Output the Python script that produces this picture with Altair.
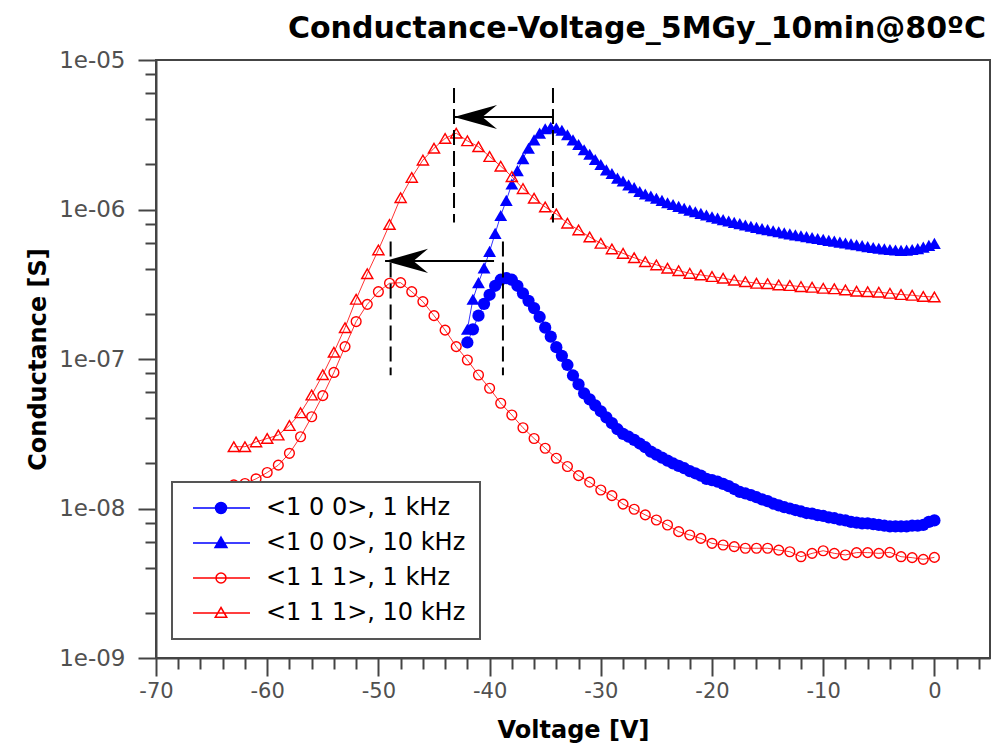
import altair as alt
import pandas as pd

# ---------------- data ----------------
series_names = ["<1 0 0>, 1 kHz", "<1 0 0>, 10 kHz", "<1 1 1>, 1 kHz", "<1 1 1>, 10 kHz"]
series_colors = ["#0000ff", "#0000ff", "#ff0000", "#ff0000"]
series_shapes = ["circle", "triangle-up", "circle", "triangle-up"]
series_filled = [True, True, False, False]
series_sizes = [150, 165, 95, 125]

v_100 = [-42.0, -41.5, -41.0, -40.5, -40.0, -39.5, -39.0, -38.5, -38.0, -37.5, -37.0, -36.5,
         -36.0, -35.5, -35.0, -34.5, -34.0, -33.5, -33.0, -32.5, -32.0, -31.5, -31.0, -30.5,
         -30.0, -29.5, -29.0, -28.5, -28.0, -27.5, -27.0, -26.5, -26.0, -25.5, -25.0, -24.5,
         -24.0, -23.5, -23.0, -22.5, -22.0, -21.5, -21.0, -20.5, -20.0, -19.5, -19.0, -18.5,
         -18.0, -17.5, -17.0, -16.5, -16.0, -15.5, -15.0, -14.5, -14.0, -13.5, -13.0, -12.5,
         -12.0, -11.5, -11.0, -10.5, -10.0, -9.5, -9.0, -8.5, -8.0, -7.5, -7.0, -6.5,
         -6.0, -5.5, -5.0, -4.5, -4.0, -3.5, -3.0, -2.5, -2.0, -1.5, -1.0, -0.5, 0.0]

g_100_1k = [1.29e-7, 1.58e-7, 1.95e-7, 2.34e-7, 2.69e-7, 3.09e-7, 3.39e-7, 3.47e-7, 3.39e-7, 3.09e-7,
            2.75e-7, 2.45e-7, 2.19e-7, 1.91e-7, 1.62e-7, 1.41e-7, 1.20e-7, 1.05e-7, 9.12e-8, 7.76e-8,
            6.76e-8, 5.89e-8, 5.37e-8, 4.90e-8, 4.47e-8, 4.07e-8, 3.72e-8, 3.39e-8, 3.16e-8, 3.02e-8,
            2.88e-8, 2.72e-8, 2.57e-8, 2.40e-8, 2.29e-8, 2.19e-8, 2.09e-8, 2.00e-8, 1.93e-8, 1.86e-8,
            1.78e-8, 1.72e-8, 1.66e-8, 1.58e-8, 1.55e-8, 1.51e-8, 1.46e-8, 1.41e-8, 1.35e-8, 1.29e-8,
            1.26e-8, 1.23e-8, 1.19e-8, 1.15e-8, 1.12e-8, 1.08e-8, 1.05e-8, 1.02e-8, 1.00e-8, 9.77e-9,
            9.55e-9, 9.33e-9, 9.23e-9, 9.02e-9, 8.91e-9, 8.71e-9, 8.61e-9, 8.41e-9, 8.32e-9, 8.13e-9,
            8.04e-9, 7.94e-9, 7.94e-9, 7.85e-9, 7.76e-9, 7.67e-9, 7.59e-9, 7.59e-9, 7.59e-9, 7.59e-9,
            7.67e-9, 7.67e-9, 7.76e-9, 8.13e-9, 8.32e-9]

g_100_10k = [1.58e-7, 2.51e-7, 3.24e-7, 4.07e-7, 5.25e-7, 6.92e-7, 9.12e-7, 1.15e-6, 1.48e-6, 1.82e-6,
             2.19e-6, 2.57e-6, 2.92e-6, 3.24e-6, 3.47e-6, 3.55e-6, 3.51e-6, 3.39e-6, 3.16e-6, 2.92e-6,
             2.72e-6, 2.51e-6, 2.34e-6, 2.16e-6, 2.00e-6, 1.84e-6, 1.74e-6, 1.62e-6, 1.55e-6, 1.46e-6,
             1.40e-6, 1.32e-6, 1.27e-6, 1.23e-6, 1.19e-6, 1.15e-6, 1.11e-6, 1.08e-6, 1.05e-6, 1.02e-6,
             9.91e-7, 9.66e-7, 9.42e-7, 9.18e-7, 8.95e-7, 8.75e-7, 8.55e-7, 8.37e-7, 8.20e-7, 8.04e-7,
             7.87e-7, 7.73e-7, 7.59e-7, 7.45e-7, 7.33e-7, 7.21e-7, 7.10e-7, 6.98e-7, 6.87e-7, 6.76e-7,
             6.67e-7, 6.58e-7, 6.49e-7, 6.40e-7, 6.31e-7, 6.22e-7, 6.14e-7, 6.05e-7, 5.97e-7, 5.89e-7,
             5.81e-7, 5.73e-7, 5.65e-7, 5.57e-7, 5.51e-7, 5.45e-7, 5.40e-7, 5.36e-7, 5.33e-7, 5.35e-7,
             5.40e-7, 5.47e-7, 5.60e-7, 5.75e-7, 5.94e-7]

v_111 = [-63, -62, -61, -60, -59, -58, -57, -56, -55, -54, -53, -52, -51, -50, -49, -48,
         -47, -46, -45, -44, -43, -42, -41, -40, -39, -38, -37, -36, -35, -34, -33, -32,
         -31, -30, -29, -28, -27, -26, -25, -24, -23, -22, -21, -20, -19, -18, -17, -16,
         -15, -14, -13, -12, -11, -10, -9, -8, -7, -6, -5, -4, -3, -2, -1, 0]

g_111_1k = [1.44e-8, 1.47e-8, 1.58e-8, 1.74e-8, 1.95e-8, 2.34e-8, 3.02e-8, 4.11e-8, 5.69e-8, 8.13e-8,
            1.21e-7, 1.78e-7, 2.32e-7, 2.82e-7, 3.21e-7, 3.24e-7, 2.82e-7, 2.42e-7, 1.95e-7, 1.56e-7,
            1.21e-7, 9.84e-8, 7.82e-8, 6.37e-8, 5.06e-8, 4.22e-8, 3.47e-8, 2.94e-8, 2.53e-8, 2.17e-8,
            1.91e-8, 1.66e-8, 1.50e-8, 1.33e-8, 1.22e-8, 1.07e-8, 9.89e-9, 9.06e-9, 8.38e-9, 7.76e-9,
            7.00e-9, 6.65e-9, 6.31e-9, 5.85e-9, 5.70e-9, 5.56e-9, 5.42e-9, 5.42e-9, 5.42e-9, 5.27e-9,
            5.14e-9, 4.76e-9, 5.01e-9, 5.22e-9, 5.01e-9, 4.89e-9, 5.07e-9, 5.07e-9, 5.01e-9, 5.09e-9,
            4.76e-9, 4.69e-9, 4.57e-9, 4.71e-9]

g_111_10k = [2.59e-8, 2.59e-8, 2.79e-8, 2.94e-8, 3.10e-8, 3.59e-8, 4.37e-8, 5.74e-8, 7.85e-8, 1.11e-7,
             1.62e-7, 2.51e-7, 3.72e-7, 5.37e-7, 7.94e-7, 1.20e-6, 1.64e-6, 2.14e-6, 2.57e-6, 2.99e-6,
             3.24e-6, 2.88e-6, 2.63e-6, 2.26e-6, 1.95e-6, 1.66e-6, 1.38e-6, 1.19e-6, 1.04e-6, 9.33e-7,
             8.10e-7, 7.30e-7, 6.55e-7, 5.94e-7, 5.45e-7, 5.09e-7, 4.76e-7, 4.48e-7, 4.26e-7, 4.05e-7,
             3.90e-7, 3.74e-7, 3.65e-7, 3.56e-7, 3.47e-7, 3.37e-7, 3.29e-7, 3.21e-7, 3.19e-7, 3.13e-7,
             3.10e-7, 3.05e-7, 3.02e-7, 2.97e-7, 2.95e-7, 2.90e-7, 2.84e-7, 2.82e-7, 2.80e-7, 2.75e-7,
             2.70e-7, 2.67e-7, 2.62e-7, 2.60e-7]

# annotation: dashed guide lines and shift arrows
vline_v = [-43.2, -34.3, -48.9, -38.8]
vline_top = [6.5e-6, 6.5e-6, 6.1e-7, 6.1e-7]
vline_bottom = [8.2e-7, 8.2e-7, 7.8e-8, 7.8e-8]
arrow_from_v = [-34.3, -39.6]
arrow_to_v = [-43.2, -49.4]
arrow_g = [4.16e-6, 4.53e-7]

# axis ticks
x_major = [-70, -60, -50, -40, -30, -20, -10, 0]
x_minor = [-68, -66, -64, -62, -58, -56, -54, -52, -48, -46, -44, -42, -38, -36, -34, -32,
           -28, -26, -24, -22, -18, -16, -14, -12, -8, -6, -4, -2, 2, 4]
y_major = [1e-9, 1e-8, 1e-7, 1e-6, 1e-5]
y_minor = [2e-9, 4e-9, 6e-9, 8e-9, 2e-8, 4e-8, 6e-8, 8e-8, 2e-7, 4e-7, 6e-7, 8e-7,
           2e-6, 4e-6, 6e-6, 8e-6]

# ---------------- build tables ----------------
series_data = [(v_100, g_100_1k), (v_100, g_100_10k), (v_111, g_111_1k), (v_111, g_111_10k)]
frames = []
for name, (vv, gg) in zip(series_names, series_data):
    frames.append(pd.DataFrame({"V": vv, "G": gg, "series": name}))
df = pd.concat(frames, ignore_index=True)

vline_df = pd.DataFrame({"V": vline_v, "G": vline_top, "G2": vline_bottom})
arrow_df = pd.DataFrame({"V": arrow_from_v, "V2": arrow_to_v, "G": arrow_g})
head_df = pd.DataFrame({"V": arrow_to_v, "G": arrow_g})

LABEL_FONT = "DejaVu Sans"
TITLE_FONT = "DejaVu Sans"
AX = "#444444"

is_major_y = "abs(log(datum.value)/LN10 - round(log(datum.value)/LN10)) < 0.01"

x_axis = alt.Axis(
    values=x_major + x_minor,
    labelExpr="datum.value % 10 === 0 ? '' + datum.value : ''",
    tickSize={"condition": {"test": "datum.value % 10 === 0", "value": 18}, "value": 11},
    tickColor=AX, tickWidth=2, domainColor=AX, domainWidth=2,
    labelFont=LABEL_FONT, labelFontSize=21, labelColor="#505050", labelPadding=4,
    labelOverlap=False, labelFlush=False, grid=False,
    title="Voltage [V]", titleFont=TITLE_FONT, titleFontSize=24, titleFontWeight="bold",
    titleColor="#000000", titlePadding=17,
)
y_axis = alt.Axis(
    values=y_major + y_minor,
    labelExpr=is_major_y + " ? replace(format(datum.value, '.0e'), 'e-', 'e-0') : ''",
    tickSize={"condition": {"test": is_major_y, "value": 18}, "value": 11},
    tickColor=AX, tickWidth=2, domainColor=AX, domainWidth=2,
    labelFont=LABEL_FONT, labelFontSize=23, labelColor="#505050", labelPadding=13,
    labelOverlap=False, labelFlush=False, grid=False,
    title="Conductance [S]", titleFont=TITLE_FONT, titleFontSize=24, titleFontWeight="bold",
    titleColor="#000000", titlePadding=8,
)

X = alt.X("V:Q", scale=alt.Scale(domain=[-70, 5], nice=False, zero=False), axis=x_axis)
Y = alt.Y("G:Q", scale=alt.Scale(type="log", domain=[1e-9, 1e-5], nice=False), axis=y_axis)

layers = []
for name, col, shp, fil, sz in zip(series_names, series_colors, series_shapes, series_filled, series_sizes):
    base = alt.Chart(df).transform_filter(alt.datum.series == name)
    layers.append(base.mark_line(color=col, strokeWidth=1, opacity=0.8).encode(x=X, y=Y))
    layers.append(
        base.mark_point(shape=shp, filled=fil, color=col, size=sz, strokeWidth=1.4, opacity=1).encode(x=X, y=Y)
    )

layers.append(
    alt.Chart(vline_df).mark_rule(color="black", strokeWidth=2, strokeDash=[15, 6]).encode(
        x=X, y=Y, y2="G2:Q")
)
layers.append(
    alt.Chart(arrow_df).mark_rule(color="black", strokeWidth=2).encode(x=X, x2="V2:Q", y=Y)
)
layers.append(
    alt.Chart(head_df).mark_point(
        shape="M0,0L1,-0.28L0.66,0L1,0.28Z", filled=True, color="black", size=7396,
        opacity=1, strokeWidth=0).encode(x=X, y=Y)
)

# legend (symbols: short line with the marker in its middle)
legend_paths = [
    "M-1,0L10.4,0M5.7,0A1.1,1.1,0,1,1,3.5,0A1.1,1.1,0,1,1,5.7,0Z",
    "M-1,0L10.4,0M4.6,-1.2L5.8,0.9L3.4,0.9Z",
    "M-1,0L10.4,0M5.6,0A1,1,0,1,1,3.6,0A1,1,0,1,1,5.6,0Z",
    "M-1,0L10.4,0M4.6,-1.1L5.75,0.85L3.45,0.85Z",
]
legend_fills = ["#0000ff", "#0000ff", "transparent", "transparent"]
leg = alt.Legend(
    title=None, orient="none", legendX=16, legendY=422,
    labelFont=LABEL_FONT, labelFontSize=24, labelColor="#000000", labelOffset=56,
    symbolSize=100, symbolStrokeWidth=1.5, rowPadding=11, padding=14,
    strokeColor="#555555", fillColor="#ffffff", labelLimit=400,
)
layers.append(
    alt.Chart(df).transform_filter("false").mark_point(size=100, opacity=1, strokeWidth=1.5).encode(
        x=X, y=Y,
        shape=alt.Shape("series:N", scale=alt.Scale(domain=series_names, range=legend_paths), legend=leg),
        stroke=alt.Stroke("series:N", scale=alt.Scale(domain=series_names, range=series_colors), legend=leg),
        fill=alt.Fill("series:N", scale=alt.Scale(domain=series_names, range=legend_fills), legend=leg),
    )
)

chart = alt.layer(*layers).properties(
    width=834, height=598,
    padding={"left": 156, "top": 60, "right": 4, "bottom": 87},
    autosize=alt.AutoSizeParams(type="none"),
    title=alt.TitleParams(
        "Conductance-Voltage_5MGy_10min@80ºC", anchor="end", font=TITLE_FONT, fontSize=30,
        fontWeight="bold", color="#000000", offset=5, dx=-4),
).configure_view(stroke=AX, strokeWidth=2).configure_legend(strokeWidth=2)

chart.save("out.html", embed_options={"renderer": "svg", "actions": False})
